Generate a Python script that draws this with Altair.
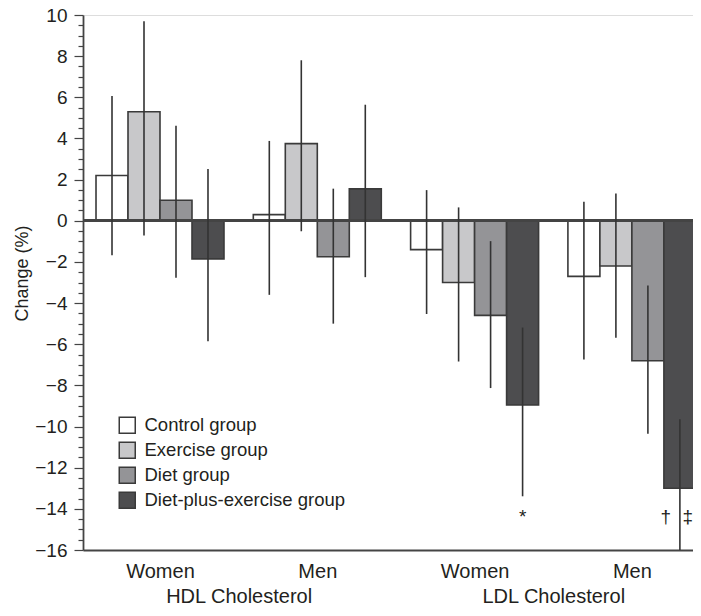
import altair as alt
import pandas as pd

# ---- data ----
lipids = ["HDL Cholesterol", "HDL Cholesterol", "LDL Cholesterol", "LDL Cholesterol"]
sexes = ["Women", "Men", "Women", "Men"]
series = ["Control group", "Exercise group", "Diet group", "Diet-plus-exercise group"]
colors = ["#ffffff", "#c8c8ca", "#949497", "#4d4d4f"]

control_mean = [2.2, 0.3, -1.4, -2.7]
exercise_mean = [5.3, 3.75, -3.0, -2.2]
diet_mean = [1.0, -1.75, -4.6, -6.8]
dpe_mean = [-1.85, 1.55, -8.95, -13.0]

control_low = [-1.67, -3.6, -4.53, -6.74]
control_high = [6.06, 3.88, 1.49, 0.93]
exercise_low = [-0.72, -0.51, -6.84, -5.68]
exercise_high = [9.7, 7.8, 0.65, 1.33]
diet_low = [-2.77, -5.0, -8.13, -10.35]
diet_high = [4.62, 1.56, -0.99, -3.14]
dpe_low = [-5.85, -2.74, -13.39, -16.4]
dpe_high = [2.51, 5.64, -5.19, -9.65]

marker_group = [2, 3, 3]
marker_series = [3, 3, 3]
marker_side = [0, -1, 1]
marker_text = ["*", "\u2020", "\u2021"]
marker_y = [-14.4, -14.4, -14.4]

y_major = list(range(-16, 11, 2))
y_minor = [v / 2 for v in range(-32, 21) if v % 4 != 0]

# ---- table ----
means = [control_mean, exercise_mean, diet_mean, dpe_mean]
lows = [control_low, exercise_low, diet_low, dpe_low]
highs = [control_high, exercise_high, diet_high, dpe_high]
BW = 0.2034
rows = []
for si, s in enumerate(series):
    for gi in range(len(sexes)):
        c = gi + (si - 1.5) * BW
        rows.append(dict(series=s, g=gi, xc=c, x0=c - BW / 2, x1=c + BW / 2,
                         mean=means[si][gi], low=lows[si][gi], high=highs[si][gi]))
df = pd.DataFrame(rows)

mk = pd.DataFrame(dict(
    x=[g + (s - 1.5) * BW + side * (0.09 if side < 0 else 0.05)
       for g, s, side in zip(marker_group, marker_series, marker_side)],
    y=marker_y, t=marker_text))

FONT = "Liberation Sans"
TXT = "#231f20"
W = 610
PX = 157.3
X0 = -0.4895
xscale = alt.Scale(domain=[X0, X0 + W / PX], nice=False, zero=False)
yscale = alt.Scale(domain=[-16, 10], nice=False)

sex_expr = "datum.value == 0 || datum.value == 2 ? 'Women' : 'Men'"
lip_expr = "datum.value < 1.5 ? 'HDL Cholesterol' : 'LDL Cholesterol'"

bars = alt.Chart(df).mark_bar(stroke="#3a3a3a", strokeWidth=1.6, clip=True).encode(
    x=alt.X("x0:Q", scale=xscale,
            axis=alt.Axis(values=[0, 1, 2, 3], labelExpr=sex_expr, title=None, ticks=False,
                          grid=False, labelFontSize=20, labelFont=FONT, labelColor=TXT,
                          labelPadding=11, domainColor="#444", domainWidth=1.8,
                          labelFlush=False, labelOverlap=False)),
    x2="x1:Q",
    y=alt.Y("mean:Q", scale=yscale,
            axis=alt.Axis(values=y_major, title="Change (%)", grid=False, orient="left",
                          tickSize=9, tickColor="#444", tickWidth=1.2, domainColor="#444",
                          domainWidth=1.8, labelFontSize=19, labelFont=FONT, labelColor=TXT,
                          labelPadding=7, titleFontSize=18, titleFont=FONT, titleColor=TXT,
                          titleFontWeight="normal", titlePadding=3, titleY=258)),
    y2=alt.datum(0),
    fill=alt.Fill("series:N", scale=alt.Scale(domain=series, range=colors),
                  legend=alt.Legend(title=None, orient="none", legendX=35, legendY=401,
                                    symbolType="square", symbolSize=256,
                                    symbolStrokeColor="#3a3a3a", symbolStrokeWidth=1.5,
                                    symbolOpacity=1, labelFontSize=18.5, labelFont=FONT,
                                    labelColor=TXT, rowPadding=2, labelOffset=8,
                                    labelLimit=0, padding=0)),
)

zero = alt.Chart(df).mark_rule(color="#444", strokeWidth=1.8).encode(y=alt.datum(0))

errs = alt.Chart(df).mark_rule(color="#333", strokeWidth=1.6, clip=True).encode(
    x=alt.X("xc:Q", scale=xscale,
            axis=alt.Axis(values=[0.5, 2.5], labelExpr=lip_expr, title=None, ticks=False,
                          domain=False, grid=False, labelFontSize=20, labelFont=FONT,
                          labelColor=TXT, labelPadding=36, orient="bottom",
                          labelFlush=False, labelOverlap=False)),
    y=alt.Y("low:Q", scale=yscale,
            axis=alt.Axis(values=y_minor, labels=False, title=None, domain=False, grid=False,
                          orient="left", tickSize=5, tickColor="#444", tickWidth=1.2)),
    y2="high:Q",
)

marks = alt.Chart(mk).mark_text(fontSize=19, font=FONT, color=TXT, baseline="middle").encode(
    x=alt.X("x:Q", scale=xscale, axis=None),
    y=alt.Y("y:Q", scale=yscale, axis=None),
    text="t:N")

chart = alt.layer(bars, zero, errs, marks).resolve_axis(x="independent", y="independent").properties(
    width=W, height=535,
    autosize=alt.AutoSizeParams(type="none"),
    padding={"left": 75, "top": 7, "right": 0, "bottom": 58},
).configure_view(stroke=None).configure(background="white")

chart.save("out.html", embed_options={"renderer": "svg", "actions": False})
